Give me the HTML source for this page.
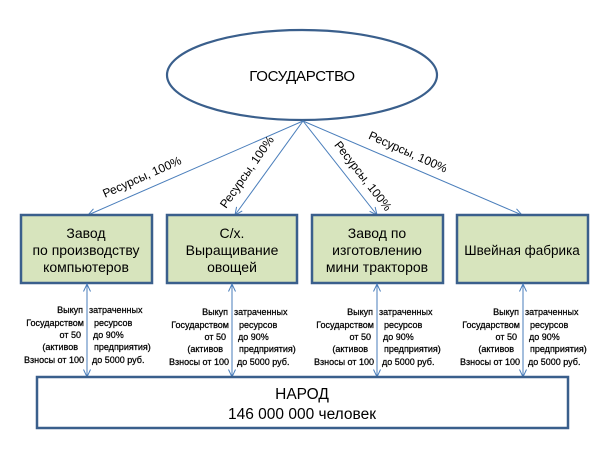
<!DOCTYPE html>
<html>
<head>
<meta charset="utf-8">
<style>
  html, body { margin:0; padding:0; background:#fff; }
  body { width:611px; height:465px; overflow:hidden; }
  svg { display:block; }
  text { font-family: "Liberation Sans", "Noto Sans CJK SC", sans-serif; fill:#000; }
  .bx { font-size:14px; }
  .sm { font-size:9px; stroke:#000; stroke-width:0.25px; }
  .lb { font-size:12px; }
</style>
</head>
<body>
<svg width="611" height="465" viewBox="0 0 611 465" xmlns="http://www.w3.org/2000/svg">
  <defs>
    <marker id="ah" markerUnits="userSpaceOnUse" markerWidth="10" markerHeight="10" refX="8" refY="4" orient="auto-start-reverse" viewBox="0 0 10 8">
      <path d="M0.5,0.5 L8,4 L0.5,7.5" fill="none" stroke="#4a7ebb" stroke-width="1"/>
    </marker>
  </defs>

  <!-- Ellipse -->
  <ellipse cx="302" cy="75" rx="135" ry="45" fill="#fff" stroke="#3a5f8c" stroke-width="2.2"/>
  <text x="302" y="81" text-anchor="middle" style="font-size:15px;letter-spacing:-0.3px">ГОСУДАРСТВО</text>

  <!-- Arrows from ellipse -->
  <g stroke="#4a7ebb" stroke-width="1" fill="none">
    <line x1="303" y1="121" x2="88" y2="215" marker-end="url(#ah)"/>
    <line x1="303" y1="121" x2="235" y2="215" marker-end="url(#ah)"/>
    <line x1="303" y1="121" x2="377" y2="215" marker-end="url(#ah)"/>
    <line x1="303" y1="121" x2="522" y2="215" marker-end="url(#ah)"/>
  </g>

  <!-- Arrow labels -->
  <text class="lb" transform="translate(142,177) rotate(-24)" x="0" y="4" text-anchor="middle">Ресурсы, 100%</text>
  <text class="lb" transform="translate(247,172) rotate(-55)" x="0" y="4" text-anchor="middle">Ресурсы, 100%</text>
  <text class="lb" transform="translate(363,176) rotate(52)" x="0" y="4" text-anchor="middle">Ресурсы, 100%</text>
  <text class="lb" transform="translate(408,152) rotate(24)" x="0" y="4" text-anchor="middle">Ресурсы, 100%</text>

  <!-- Boxes -->
  <g fill="#d7e4bd" stroke="#3a5f8c" stroke-width="2.5">
    <rect x="21" y="215" width="131" height="68"/>
    <rect x="167" y="215" width="130" height="68"/>
    <rect x="312" y="215" width="131" height="68"/>
    <rect x="457" y="215" width="131" height="68"/>
  </g>

  <g text-anchor="middle">
    <text x="86" y="238" class="bx">Завод</text>
    <text x="86" y="255" class="bx">по производству</text>
    <text x="86" y="272" class="bx">компьютеров</text>

    <text x="232" y="238" class="bx">С/х.</text>
    <text x="232" y="255" class="bx">Выращивание</text>
    <text x="232" y="272" class="bx">овощей</text>

    <text x="377" y="238" class="bx">Завод по</text>
    <text x="377" y="255" class="bx">изготовлению</text>
    <text x="377" y="272" class="bx">мини тракторов</text>

    <text x="522" y="255" class="bx" style="font-size:13.5px">Швейная фабрика</text>
  </g>

  <!-- Vertical double arrows -->
  <g stroke="#4a7ebb" stroke-width="1" fill="none">
    <line x1="87" y1="284" x2="87" y2="377" marker-start="url(#ah)" marker-end="url(#ah)"/>
    <line x1="232" y1="284" x2="232" y2="377" marker-start="url(#ah)" marker-end="url(#ah)"/>
    <line x1="377" y1="284" x2="377" y2="377" marker-start="url(#ah)" marker-end="url(#ah)"/>
    <line x1="523" y1="284" x2="523" y2="377" marker-start="url(#ah)" marker-end="url(#ah)"/>
  </g>

  <!-- Small texts for each arrow -->
  <g>
    <!-- Box 1, A=87 -->
    <text x="83" y="313" text-anchor="end" class="sm">Выкуп</text>
    <text x="84" y="326" text-anchor="end" class="sm">Государством</text>
    <text x="81" y="338" text-anchor="end" class="sm">от 50</text>
    <text x="78" y="350" text-anchor="end" class="sm">(активов</text>
    <text x="84" y="363" text-anchor="end" class="sm">Взносы от 100</text>
    <text x="89" y="313" class="sm">затраченных</text>
    <text x="94" y="326" class="sm">ресурсов</text>
    <text x="93" y="338" class="sm">до 90%</text>
    <text x="94" y="350" class="sm">предприятия)</text>
    <text x="92" y="363" class="sm">до 5000 руб.</text>

    <!-- Box 2, A=232 -->
    <text x="228" y="315" text-anchor="end" class="sm">Выкуп</text>
    <text x="229" y="328" text-anchor="end" class="sm">Государством</text>
    <text x="226" y="340" text-anchor="end" class="sm">от 50</text>
    <text x="223" y="352" text-anchor="end" class="sm">(активов</text>
    <text x="229" y="365" text-anchor="end" class="sm">Взносы от 100</text>
    <text x="234" y="315" class="sm">затраченных</text>
    <text x="239" y="328" class="sm">ресурсов</text>
    <text x="238" y="340" class="sm">до 90%</text>
    <text x="239" y="352" class="sm">предприятия)</text>
    <text x="237" y="365" class="sm">до 5000 руб.</text>

    <!-- Box 3, A=377 -->
    <text x="373" y="315" text-anchor="end" class="sm">Выкуп</text>
    <text x="374" y="328" text-anchor="end" class="sm">Государством</text>
    <text x="371" y="340" text-anchor="end" class="sm">от 50</text>
    <text x="368" y="352" text-anchor="end" class="sm">(активов</text>
    <text x="374" y="365" text-anchor="end" class="sm">Взносы от 100</text>
    <text x="379" y="315" class="sm">затраченных</text>
    <text x="384" y="328" class="sm">ресурсов</text>
    <text x="383" y="340" class="sm">до 90%</text>
    <text x="384" y="352" class="sm">предприятия)</text>
    <text x="382" y="365" class="sm">до 5000 руб.</text>

    <!-- Box 4, A=523 -->
    <text x="519" y="315" text-anchor="end" class="sm">Выкуп</text>
    <text x="520" y="328" text-anchor="end" class="sm">Государством</text>
    <text x="517" y="340" text-anchor="end" class="sm">от 50</text>
    <text x="514" y="352" text-anchor="end" class="sm">(активов</text>
    <text x="520" y="365" text-anchor="end" class="sm">Взносы от 100</text>
    <text x="525" y="315" class="sm">затраченных</text>
    <text x="530" y="328" class="sm">ресурсов</text>
    <text x="529" y="340" class="sm">до 90%</text>
    <text x="530" y="352" class="sm">предприятия)</text>
    <text x="528" y="365" class="sm">до 5000 руб.</text>
  </g>

  <!-- НАРОД box -->
  <rect x="37" y="377" width="531" height="51" fill="#fff" stroke="#3a5f8c" stroke-width="2.5"/>
  <text x="302" y="399" text-anchor="middle" style="font-size:15.5px">НАРОД</text>
  <text x="302" y="419" text-anchor="middle" style="font-size:15.5px">146 000 000 человек</text>
</svg>
</body>
</html>
